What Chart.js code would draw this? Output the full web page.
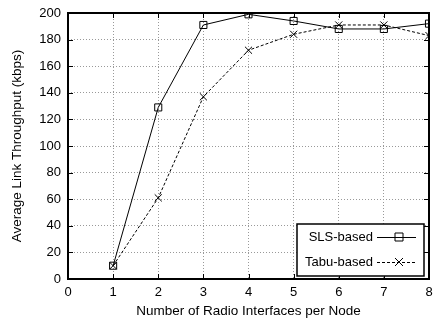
<!DOCTYPE html>
<html>
<head>
<meta charset="utf-8">
<script src="https://cdn.jsdelivr.net/npm/chart.js@4"></script>
<style>
  html, body { margin: 0; padding: 0; background: #fff; }
  #wrap { width: 435px; height: 323px; }
</style>
</head>
<body>
<div id="wrap"><canvas id="chart" width="435" height="323"></canvas></div>
<script>
// === Data ===
const interfaces = [1, 2, 3, 4, 5, 6, 7, 8];
const slsValues = [10, 129, 191, 199, 194, 188, 188, 192];
const tabuValues = [10, 61, 137, 172, 184, 191, 191, 183];
const seriesNames = ['SLS-based', 'Tabu-based'];

const FONT = "'Liberation Sans', Arial, sans-serif";

function toPoints(vals) {
    return interfaces.map((x, i) => ({ x: x, y: vals[i] }));
}

// frame, inward ticks and legend box drawn on top
const framePlugin = {
    id: 'frame',
    afterDraw(chart) {
        const { ctx, chartArea: a, scales } = chart;
        ctx.save();
        ctx.strokeStyle = '#000';
        ctx.lineWidth = 1;
        ctx.beginPath();
        scales.x.ticks.forEach(t => {
            const px = Math.round(scales.x.getPixelForValue(t.value)) + 0.5;
            ctx.moveTo(px, a.bottom); ctx.lineTo(px, a.bottom - 5);
            ctx.moveTo(px, a.top); ctx.lineTo(px, a.top + 5);
        });
        scales.y.ticks.forEach(t => {
            const py = Math.round(scales.y.getPixelForValue(t.value)) + 0.5;
            ctx.moveTo(a.left, py); ctx.lineTo(a.left + 5, py);
            ctx.moveTo(a.right, py); ctx.lineTo(a.right - 5, py);
        });
        ctx.stroke();
        ctx.lineWidth = 2;
        ctx.strokeRect(a.left, a.top, a.right - a.left, a.bottom - a.top);

        // legend
        const bx = 297, by = 224, bw = 127, bh = 52;
        ctx.fillStyle = '#fff';
        ctx.fillRect(bx, by, bw, bh);
        ctx.lineWidth = 1.5;
        ctx.strokeRect(bx, by, bw, bh);
        ctx.font = '13px ' + FONT;
        ctx.fillStyle = '#000';
        ctx.textAlign = 'right';
        ctx.textBaseline = 'middle';
        chart.data.datasets.forEach((ds, i) => {
            const ly = by + 13 + i * 25;
            ctx.fillText(ds.label, bx + 76, ly);
            ctx.lineWidth = 1;
            ctx.setLineDash(ds.borderDash || []);
            ctx.beginPath();
            ctx.moveTo(bx + 80, ly + 0.5);
            ctx.lineTo(bx + 119, ly + 0.5);
            ctx.stroke();
            ctx.setLineDash([]);
            const mx = bx + 102;
            ctx.beginPath();
            if (ds.pointStyle === 'rect') {
                ctx.rect(mx - 4, ly - 4, 8, 8);
            } else {
                ctx.moveTo(mx - 4, ly - 4); ctx.lineTo(mx + 4, ly + 4);
                ctx.moveTo(mx + 4, ly - 4); ctx.lineTo(mx - 4, ly + 4);
            }
            ctx.stroke();
        });
        ctx.restore();
    }
};

document.addEventListener('DOMContentLoaded', function() {
    Chart.defaults.font.family = FONT;
    Chart.defaults.color = '#000';

    new Chart(document.getElementById('chart').getContext('2d'), {
        type: 'line',
        data: {
            datasets: [
                {
                    label: seriesNames[0],
                    data: toPoints(slsValues),
                    borderColor: '#000',
                    borderWidth: 1,
                    pointStyle: 'rect',
                    pointRadius: 5,
                    pointBorderWidth: 1,
                    pointBorderColor: '#000',
                    pointBackgroundColor: 'transparent',
                    tension: 0
                },
                {
                    label: seriesNames[1],
                    data: toPoints(tabuValues),
                    borderColor: '#000',
                    borderWidth: 1,
                    borderDash: [3, 2],
                    pointStyle: 'crossRot',
                    pointRadius: 5,
                    pointBorderWidth: 1,
                    pointBorderColor: '#000',
                    pointBackgroundColor: 'transparent',
                    tension: 0
                }
            ]
        },
        options: {
            responsive: false,
            animation: false,
            layout: { padding: { top: 13, right: 3, left: 0, bottom: 0 } },
            plugins: { legend: { display: false }, tooltip: { enabled: false } },
            scales: {
                x: {
                    type: 'linear',
                    min: 0, max: 8,
                    ticks: { stepSize: 1, font: { size: 13 }, padding: 6 },
                    grid: { color: '#999', drawTicks: false, lineWidth: 1 },
                    border: { display: false, dash: [1, 2] },
                    title: { display: true, text: 'Number of Radio Interfaces per Node', font: { size: 13.5 }, padding: { top: 3 } },
                    afterFit(s) { s.height = 44; s.paddingLeft = 0; s.paddingRight = 0; }
                },
                y: {
                    min: 0, max: 200,
                    ticks: { stepSize: 20, font: { size: 13 }, padding: 7 },
                    grid: { color: '#999', drawTicks: false, lineWidth: 1 },
                    border: { display: false, dash: [1, 2] },
                    title: { display: true, text: 'Average Link Throughput (kbps)', font: { size: 13.5 }, padding: { top: 9, bottom: 4 } },
                    afterFit(s) { s.width = 68; s.paddingTop = 0; s.paddingBottom = 0; }
                }
            }
        },
        plugins: [framePlugin]
    });
});
</script>
</body>
</html>
